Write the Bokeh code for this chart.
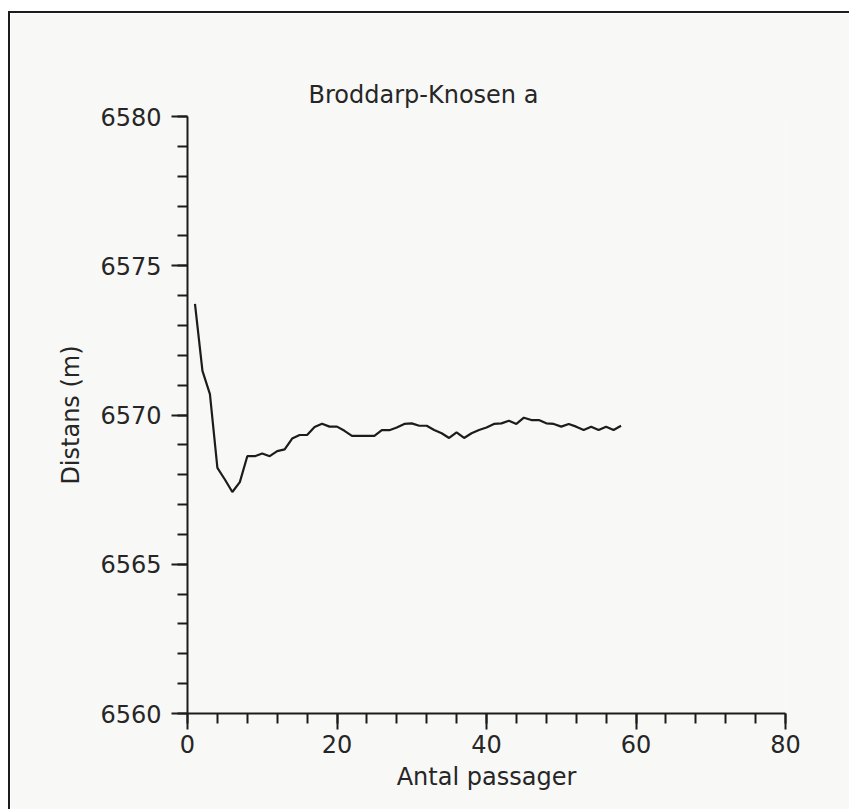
from bokeh.plotting import figure
from bokeh.models import FixedTicker, Range1d
from bokeh.embed import file_html
from bokeh.resources import INLINE

# Number of passages and the running distance estimate (m)
passages = list(range(1, 59))
distance = [
    6573.72, 6571.48, 6570.70, 6568.23, 6567.84, 6567.42, 6567.75, 6568.62,
    6568.62, 6568.71, 6568.62, 6568.79, 6568.85, 6569.21, 6569.33, 6569.33,
    6569.60, 6569.71, 6569.61, 6569.61, 6569.47, 6569.30, 6569.30, 6569.30,
    6569.30, 6569.49, 6569.49, 6569.58, 6569.70, 6569.72, 6569.64, 6569.64,
    6569.50, 6569.39, 6569.23, 6569.42, 6569.23, 6569.39, 6569.50, 6569.58,
    6569.70, 6569.72, 6569.81, 6569.70, 6569.91, 6569.83, 6569.83, 6569.72,
    6569.70, 6569.61, 6569.70, 6569.61, 6569.50, 6569.61, 6569.50, 6569.61,
    6569.50, 6569.64,
]

title_text = "Broddarp-Knosen a"
x_label = "Antal passager"
y_label = "Distans (m)"
x_major = [0, 20, 40, 60, 80]
x_minor = list(range(0, 81, 4))
y_major = [6560, 6565, 6570, 6575, 6580]
y_minor = list(range(6560, 6581))

FONT = "DejaVu Sans"
SIZE = "24px"
INK = "#1c1c1c"
TEXT = "#262626"
PAPER = "#f8f8f6"

p = figure(
    width=841, height=798,
    x_range=Range1d(0, 80), y_range=Range1d(6560, 6580),
    output_backend="svg", toolbar_location=None,
    min_border_left=177, min_border_right=66,
    min_border_top=103, min_border_bottom=98,
    background_fill_color=PAPER, border_fill_color=PAPER,
)
# page frame: a rule along the top and the left side
p.margin = (11, 0, 0, 8)
p.styles = {"border-left": "2px solid #1c1c1c", "border-top": "2px solid #1c1c1c"}

p.title.text = title_text
p.title.align = "left"
p.title.offset = 121
p.title.standoff = 16
p.title.text_font = FONT
p.title.text_font_size = SIZE
p.title.text_font_style = "normal"
p.title.text_color = TEXT

p.outline_line_color = None
p.grid.visible = False

p.xaxis.ticker = FixedTicker(ticks=x_major, minor_ticks=x_minor)
p.yaxis.ticker = FixedTicker(ticks=y_major, minor_ticks=y_minor)

for ax in (p.xaxis, p.yaxis):
    ax.axis_line_color = INK
    ax.axis_line_width = 2
    ax.major_tick_line_color = INK
    ax.major_tick_line_width = 2
    ax.minor_tick_line_color = INK
    ax.minor_tick_line_width = 2
    ax.major_tick_out = 16
    ax.major_tick_in = 0
    ax.minor_tick_out = 10
    ax.minor_tick_in = 0
    ax.major_label_text_font = FONT
    ax.major_label_text_font_size = SIZE
    ax.major_label_text_color = TEXT
    ax.axis_label_text_font = FONT
    ax.axis_label_text_font_size = SIZE
    ax.axis_label_text_font_style = "normal"
    ax.axis_label_text_color = TEXT

p.xaxis.axis_label = x_label
p.yaxis.axis_label = y_label
p.xaxis.major_label_standoff = 5
p.xaxis.axis_label_standoff = 7
p.yaxis.major_label_standoff = 10
p.yaxis.axis_label_standoff = 12

p.line(passages, distance, line_color=INK, line_width=2.2)

open("out.html", "w").write(file_html(p, INLINE))
